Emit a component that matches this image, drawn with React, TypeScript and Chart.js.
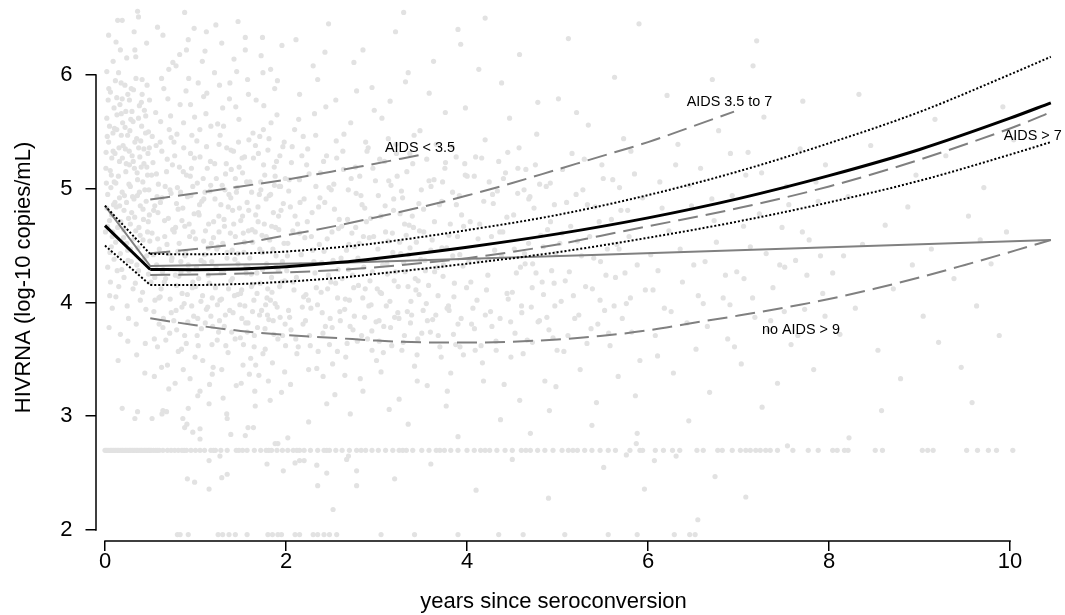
import React, { useEffect, useRef } from "react";
import { Chart, registerables } from "chart.js";

Chart.register(...registerables);

const FONT = "'Liberation Sans', Arial, Helvetica, sans-serif";

const xTicks = [0, 2, 4, 6, 8, 10];
const yTicks = [2, 3, 4, 5, 6];
const xRange = [-0.0994, 10.01];
const yRange = [1.9033, 6.536];

const xTitle = "years since seroconversion";
const yTitle = "HIVRNA (log-10 copies/mL)";

// fitted mean (solid black) and its confidence band (dotted)
const startTimes = [0, 0.5];
const meanStart = [4.675, 4.29];
const upperStart = [4.851, 4.426];
const lowerStart = [4.5, 4.154];
const fitTimes = [0.5, 1, 1.5, 2, 2.6, 3, 4, 5, 6, 7, 8, 9, 10, 10.45];
const meanFit = [4.29, 4.288, 4.295, 4.315, 4.353, 4.387, 4.486, 4.603, 4.744, 4.913, 5.115, 5.345, 5.62, 5.755];
const upperFit = [4.426, 4.424, 4.43, 4.448, 4.487, 4.522, 4.636, 4.77, 4.944, 5.153, 5.4, 5.675, 6.005, 6.16];
const lowerFit = [4.154, 4.154, 4.163, 4.183, 4.218, 4.252, 4.341, 4.442, 4.569, 4.713, 4.88, 5.07, 5.3, 5.41];

// grey solid line
const greyTimes = [0, 0.5, 2.6, 5.47, 10.45];
const greyFit = [4.85, 4.32, 4.35, 4.42, 4.55];

// group curves (grey dashed)
const aids35Times = [0.5, 1, 1.5, 2, 2.5, 2.82, 3.5];
const aids35Fit = [4.905, 4.96, 5.02, 5.08, 5.15, 5.195, 5.3];
const aids357Times = [0.5, 1, 1.5, 2, 2.6, 3, 3.5, 4, 4.5, 5, 5.47, 6, 6.5, 6.95];
const aids357Fit = [4.432, 4.47, 4.52, 4.59, 4.681, 4.75, 4.84, 4.94, 5.05, 5.17, 5.282, 5.41, 5.55, 5.678];
const aids7Times = [0.5, 1, 2, 2.6, 3, 4, 5, 5.47, 6, 7, 8, 8.78, 9, 10, 10.35, 10.45];
const aids7Fit = [4.242, 4.245, 4.265, 4.286, 4.31, 4.39, 4.51, 4.585, 4.67, 4.83, 5.02, 5.2, 5.255, 5.53, 5.64, 5.675];
const noAidsTimes = [0.5, 1, 1.5, 2, 2.6, 3, 3.5, 4, 4.5, 5, 5.47, 6, 6.57, 7, 7.68, 8, 8.5, 9, 9.5, 10.07, 10.45];
const noAidsFit = [3.861, 3.8, 3.75, 3.715, 3.685, 3.665, 3.65, 3.648, 3.655, 3.675, 3.705, 3.755, 3.83, 3.885, 3.98, 4.03, 4.12, 4.22, 4.33, 4.46, 4.55];

const labelText = ["AIDS < 3.5", "AIDS 3.5 to 7", "AIDS > 7", "no AIDS > 9"];
const labelX = [3.48, 6.9, 10.25, 7.69];
const labelY = [5.358, 5.765, 5.464, 3.758];

// observed viral loads (time, log10 RNA)
const observations: [number, number][] = [
  [0.02,5.62],[0.03,4.95],[0.04,5.41],[0.05,4.72],[0.06,5.85],[0.07,5.12],[0.08,4.58],[0.09,5.33],[0.10,5.71],[0.11,4.88],
  [0.12,5.05],[0.13,5.52],[0.14,4.66],[0.15,6.02],[0.16,5.24],[0.17,4.43],[0.18,5.66],[0.19,4.97],[0.20,5.38],[0.21,4.81],
  [0.22,5.91],[0.23,5.15],[0.24,4.52],[0.25,5.47],[0.26,4.74],[0.27,5.78],[0.28,5.02],[0.29,4.36],[0.30,5.29],[0.31,5.59],
  [0.32,4.91],[0.33,6.22],[0.34,4.63],[0.35,5.44],[0.36,5.08],[0.37,4.28],[0.38,5.73],[0.39,4.85],[0.40,5.19],[0.41,5.96],
  [0.42,4.55],[0.43,5.35],[0.44,4.99],[0.45,5.64],[0.46,4.41],[0.47,5.12],[0.48,5.50],[0.49,4.77],[0.03,4.31],[0.06,4.18],
  [0.08,3.95],[0.12,4.05],[0.17,3.72],[0.21,4.22],[0.26,3.86],[0.31,4.12],[0.35,3.54],[0.39,4.02],[0.44,3.38],[0.48,4.25],
  [0.04,6.35],[0.14,6.48],[0.24,6.15],[0.36,6.56],[0.46,6.28],[0.09,6.12],[0.29,5.88],[0.19,5.79],[0.41,5.83],[0.01,5.18],
  [0.05,5.55],[0.11,5.31],[0.16,4.92],[0.23,5.68],[0.28,4.69],[0.33,5.41],[0.38,4.97],[0.43,5.22],[0.47,4.62],[0.13,5.80],
  [0.02,4.83],[0.07,4.49],[0.18,5.47],[0.27,5.21],[0.32,4.56],[0.37,5.62],[0.42,4.82],[0.49,5.36],[0.10,4.38],[0.25,4.46],
  [0.015,5.05],[0.035,5.78],[0.055,4.44],[0.075,5.27],[0.095,4.86],[0.115,5.95],[0.135,4.28],[0.155,5.36],[0.175,4.71],[0.195,5.58],
  [0.215,4.94],[0.235,5.22],[0.255,4.37],[0.275,5.51],[0.295,4.79],[0.315,5.87],[0.335,4.17],[0.355,5.14],[0.375,4.66],[0.395,5.42],
  [0.415,4.09],[0.435,5.69],[0.455,4.89],[0.475,5.31],[0.495,4.54],[0.045,3.78],[0.145,3.49],[0.245,3.97],[0.345,3.81],[0.445,3.64],
  [0.065,5.01],[0.165,5.74],[0.265,5.04],[0.365,4.48],[0.465,5.91],[0.085,4.62],[0.185,4.29],[0.285,5.61],[0.385,5.28],[0.485,4.99],
  [0.025,5.46],[0.125,4.84],[0.225,5.35],[0.325,5.18],[0.425,4.73],[0.105,5.53],[0.205,4.57],[0.305,4.93],[0.405,5.55],[0.005,4.62],
  [0.012,5.32],[0.028,4.67],[0.042,5.88],[0.058,5.16],[0.072,4.77],[0.088,5.49],[0.102,5.06],[0.118,4.53],[0.132,5.65],[0.148,5.11],
  [0.162,4.85],[0.178,5.93],[0.192,5.27],[0.208,4.64],[0.222,5.54],[0.238,4.88],[0.252,5.83],[0.268,5.33],[0.282,4.47],[0.298,5.68],
  [0.312,5.24],[0.328,4.75],[0.342,5.97],[0.358,4.94],[0.372,5.36],[0.388,4.59],[0.402,5.76],[0.418,5.06],[0.432,4.38],[0.448,5.49],
  [0.462,5.19],[0.478,4.71],[0.492,5.78],[0.052,4.06],[0.152,4.14],[0.252,3.66],[0.352,4.33],[0.452,3.94],[0.122,6.29],[0.322,6.38],
  [0.52,4.61],[0.53,5.23],[0.54,3.92],[0.55,4.85],[0.56,5.67],[0.57,4.33],[0.58,3.61],[0.59,5.04],[0.60,4.47],[0.61,5.41],
  [0.62,4.12],[0.63,4.92],[0.64,3.78],[0.65,5.88],[0.66,4.58],[0.67,4.21],[0.68,5.15],[0.69,3.45],[0.70,4.74],[0.71,5.52],
  [0.72,4.03],[0.73,4.96],[0.74,4.39],[0.75,6.11],[0.76,3.84],[0.77,5.29],[0.78,4.66],[0.79,4.15],[0.80,5.01],[0.81,3.57],
  [0.82,4.52],[0.83,5.74],[0.84,4.27],[0.85,3.96],[0.86,4.83],[0.87,5.36],[0.88,3.71],[0.89,4.45],[0.90,5.12],[0.91,4.07],
  [0.92,6.31],[0.93,4.69],[0.94,3.33],[0.95,4.94],[0.96,5.47],[0.97,4.18],[0.98,3.88],[0.99,5.63],[1.00,4.56],[1.01,4.31],
  [1.02,5.05],[1.03,3.62],[1.04,4.77],[1.05,5.28],[1.06,4.01],[1.07,4.89],[1.08,3.49],[1.09,5.81],[1.10,4.42],[1.11,4.63],
  [1.12,3.94],[1.13,5.18],[1.14,4.24],[1.15,3.11],[1.16,4.98],[1.17,5.55],[1.18,4.36],[1.19,3.79],[1.20,4.71],[1.21,6.02],
  [1.22,4.13],[1.23,5.09],[1.24,3.67],[1.25,4.49],[1.26,5.39],[1.27,4.02],[1.28,4.86],[1.29,3.41],[1.30,5.71],[1.31,4.28],
  [1.32,4.67],[1.33,3.89],[1.34,5.22],[1.35,4.44],[1.36,3.56],[1.37,4.95],[1.38,5.93],[1.39,4.19],[1.40,3.74],[1.41,4.81],
  [1.42,5.33],[1.43,4.06],[1.44,4.58],[1.45,3.27],[1.46,5.01],[1.47,4.34],[1.48,5.61],[1.49,3.98],[1.50,4.72],[1.51,4.11],
  [1.52,5.14],[1.53,3.63],[1.54,4.53],[1.55,6.22],[1.56,4.26],[1.57,4.88],[1.58,3.82],[1.59,5.43],[1.60,4.39],[1.61,3.51],
  [1.62,4.97],[1.63,4.16],[1.64,5.27],[1.65,3.71],[1.66,4.62],[1.67,5.78],[1.68,4.08],[1.69,4.84],[1.70,3.36],[1.71,4.47],
  [1.72,5.06],[1.73,3.93],[1.74,4.29],[1.75,5.52],[1.76,4.69],[1.77,3.59],[1.78,4.91],[1.79,4.04],[1.80,5.34],[1.81,3.85],
  [1.82,4.55],[1.83,6.05],[1.84,4.22],[1.85,3.47],[1.86,4.79],[1.87,5.19],[1.88,3.99],[1.89,4.41],[1.90,5.65],[1.91,3.68],
  [1.92,4.64],[1.93,4.14],[1.94,5.02],[1.95,3.21],[1.96,4.36],[1.97,4.87],[1.98,5.41],[1.99,3.81],
  [0.58,6.42],[0.88,6.55],[1.12,6.38],[1.47,6.47],[1.74,6.33],[1.93,6.58],[0.64,3.05],[1.35,2.98],[1.05,3.22],[1.66,3.09],
  [0.73,5.45],[0.97,5.02],[1.26,4.62],[1.44,5.09],[1.58,4.31],[1.83,4.95],[0.61,4.05],[0.85,4.72],[1.17,3.88],[1.71,5.46],
  [1.03,5.93],[0.92,4.33],[1.31,5.55],[1.52,4.76],[1.88,5.11],[0.55,4.22],[0.79,4.87],[1.09,4.54],[1.39,4.92],[1.63,3.92],
  [0.515,5.12],[0.535,4.42],[0.545,3.68],[0.565,5.38],[0.585,4.79],[0.595,4.04],[0.615,5.59],[0.635,4.27],[0.645,3.86],[0.665,5.02],
  [0.685,4.51],[0.695,5.79],[0.715,3.73],[0.735,4.37],[0.745,5.21],[0.765,4.62],[0.785,3.93],[0.795,5.48],[0.815,4.23],[0.835,4.97],
  [0.845,3.59],[0.865,5.15],[0.885,4.41],[0.895,5.86],[0.915,3.83],[0.935,4.58],[0.945,5.31],[0.965,4.13],[0.985,4.78],[0.995,3.52],
  [1.015,5.42],[1.035,4.21],[1.045,4.86],[1.065,3.77],[1.085,5.09],[1.095,4.35],[1.115,5.66],[1.135,3.96],[1.145,4.69],[1.165,5.24],
  [1.185,4.04],[1.195,3.43],[1.215,4.91],[1.235,4.47],[1.245,5.57],[1.265,3.84],[1.285,4.26],[1.295,5.03],[1.315,4.73],[1.335,3.62],
  [1.345,5.36],[1.365,4.12],[1.385,4.61],[1.395,5.17],[1.415,3.91],[1.435,4.38],[1.445,5.72],[1.465,4.07],[1.485,4.83],[1.495,3.69],
  [1.515,5.27],[1.535,4.44],[1.545,3.97],[1.565,5.06],[1.585,4.63],[1.595,3.37],[1.615,4.25],[1.635,5.49],[1.645,4.02],[1.665,4.77],
  [1.685,3.78],[1.695,5.31],[1.715,4.17],[1.735,4.59],[1.745,3.55],[1.765,5.12],[1.785,4.34],[1.795,3.89],[1.815,4.94],[1.835,5.58],
  [1.845,4.09],[1.865,3.72],[1.885,4.66],[1.895,5.24],[1.915,4.28],[1.935,3.87],[1.945,4.81],[1.965,5.37],[1.985,4.19],[1.995,3.62],
  [0.575,4.93],[0.655,4.18],[0.725,5.64],[0.805,4.45],[0.875,3.99],[0.955,5.18],[1.025,3.86],[1.105,4.97],[1.175,4.52],[1.255,3.74],
  [1.325,4.99],[1.405,4.46],[1.475,5.41],[1.555,3.82],[1.625,4.64],[1.705,4.95],[1.775,3.98],[1.855,4.47],[1.925,5.02],[0.625,3.43],
  [0.705,6.05],[0.825,6.18],[0.905,2.93],[1.075,6.12],[1.155,3.28],[1.225,6.44],[1.305,3.16],[1.455,6.03],[1.575,5.96],[1.655,3.22],
  [1.725,6.17],[1.805,3.31],[1.875,5.88],[1.955,6.26],[0.775,3.29],[0.925,5.97],[1.125,5.84],[1.375,5.79],[1.525,3.45],[1.755,5.73],
  [0.508,4.18],[0.522,5.46],[0.538,4.81],[0.552,4.02],[0.568,5.13],[0.582,4.56],[0.598,3.81],[0.612,4.88],[0.628,5.33],[0.642,4.29],
  [0.658,4.72],[0.672,3.67],[0.688,5.26],[0.702,4.43],[0.718,4.99],[0.732,3.91],[0.748,4.64],[0.762,5.41],[0.778,4.24],[0.792,3.76],
  [0.808,4.82],[0.822,5.19],[0.838,4.36],[0.852,4.08],[0.868,5.58],[0.882,4.67],[0.898,3.64],[0.912,4.93],[0.928,4.28],[0.942,5.11],
  [0.958,3.97],[0.972,4.62],[0.988,5.27],[1.002,4.14],[1.018,3.71],[1.032,4.79],[1.048,5.52],[1.062,4.37],[1.078,4.06],[1.092,4.91],
  [1.108,3.82],[1.122,5.37],[1.138,4.48],[1.152,4.17],[1.168,5.03],[1.182,3.63],[1.198,4.57],[1.212,5.22],[1.228,4.31],[1.242,3.98],
  [1.258,4.76],[1.272,5.47],[1.288,4.03],[1.302,4.52],[1.318,3.79],[1.332,5.13],[1.348,4.39],[1.362,4.84],[1.378,3.93],[1.392,5.34],
  [1.408,4.21],[1.422,4.69],[1.438,3.68],[1.452,4.97],[1.468,4.43],[1.482,5.19],[1.498,4.08],[1.512,3.86],[1.528,4.61],[1.542,5.28],
  [1.558,4.32],[1.572,3.74],[1.588,4.81],[1.602,5.06],[1.618,4.14],[1.632,4.53],[1.648,3.61],[1.662,5.38],[1.678,4.26],[1.692,4.71],
  [1.708,3.89],[1.722,4.99],[1.738,4.44],[1.752,5.21],[1.768,3.77],[1.782,4.58],[1.798,4.12],[1.812,5.44],[1.828,4.02],[1.842,4.67],
  [1.858,3.84],[1.872,5.03],[1.888,4.31],[1.902,3.96],[1.918,4.76],[1.932,5.29],[1.948,4.18],[1.962,3.71],[1.978,4.52],[1.992,5.09],
  [0.545,3.35],[0.705,3.24],[0.865,3.41],[1.025,3.18],[1.185,3.37],[1.345,3.02],[1.505,3.29],[1.665,3.45],[1.825,3.14],[1.985,3.39],
  [0.625,5.97],[0.785,6.08],[0.945,5.74],[1.105,6.21],[1.265,5.91],[1.425,6.14],[1.585,5.83],[1.745,6.02],[1.905,5.95],[0.985,6.41],
  [2.02,4.52],[2.04,3.87],[2.06,5.23],[2.08,4.18],[2.10,4.76],[2.12,3.55],[2.14,5.61],[2.16,4.33],[2.18,3.96],[2.20,4.91],
  [2.22,4.07],[2.24,5.35],[2.26,3.71],[2.28,4.58],[2.30,6.08],[2.32,4.26],[2.34,3.42],[2.36,4.84],[2.38,5.14],[2.40,3.91],
  [2.42,4.45],[2.44,5.72],[2.46,4.12],[2.48,3.63],[2.50,4.99],[2.52,4.37],[2.54,3.19],[2.56,5.27],[2.58,4.65],[2.60,3.84],
  [2.62,4.21],[2.64,5.48],[2.66,3.52],[2.68,4.73],[2.70,4.02],[2.72,5.09],[2.74,3.76],[2.76,4.49],[2.78,5.86],[2.80,4.15],
  [2.82,3.33],[2.84,4.86],[2.86,4.31],[2.88,5.41],[2.90,3.68],[2.92,4.57],[2.94,3.98],[2.96,5.18],[2.98,4.38],[3.00,3.49],
  [3.02,4.94],[3.04,4.09],[3.06,5.62],[3.08,3.79],[3.10,4.62],[3.12,4.25],[3.14,3.06],[3.16,5.03],[3.18,4.44],[3.20,3.87],
  [3.22,5.31],[3.24,4.14],[3.26,4.78],[3.28,3.58],[3.30,4.35],[3.32,5.94],[3.34,3.92],[3.36,4.68],[3.38,4.01],[3.40,5.22],
  [3.42,3.44],[3.44,4.53],[3.46,4.19],[3.48,5.51],[3.50,3.73],[3.52,4.82],[3.54,4.28],[3.56,3.27],[3.58,5.07],[3.60,4.46],
  [3.62,3.85],[3.64,4.71],[3.66,5.39],[3.68,4.06],[3.70,3.61],[3.72,4.89],[3.74,4.33],[3.76,5.67],[3.78,3.95],[3.80,4.59],
  [3.82,3.38],[3.84,4.97],[3.86,4.17],[3.88,5.28],[3.90,3.81],[3.92,4.42],[3.94,4.77],[3.96,3.54],[3.98,5.12],
  [2.11,6.31],[2.47,6.45],[2.85,6.22],[3.21,6.38],[3.63,6.12],[3.93,6.27],[2.25,2.95],[2.71,3.02],[3.35,2.93],[3.77,3.09],
  [2.15,4.61],[2.33,5.02],[2.51,3.78],[2.69,4.29],[2.87,4.83],[3.03,3.66],[3.19,4.91],[3.37,4.48],[3.55,3.99],[3.73,5.06],
  [2.03,4.98],[2.41,3.35],[2.77,4.66],[3.13,5.44],[3.47,4.07],[3.85,3.72],[2.19,5.46],[2.57,4.04],[2.95,3.58],[3.31,4.69],
  [2.015,4.41],[2.035,5.08],[2.055,3.76],[2.075,4.63],[2.095,5.52],[2.115,4.22],[2.135,3.61],[2.155,4.88],[2.175,5.29],[2.195,4.05],
  [2.215,3.84],[2.235,4.71],[2.255,5.13],[2.275,3.95],[2.295,4.46],[2.315,5.66],[2.335,4.13],[2.355,3.57],[2.375,4.92],[2.395,4.35],
  [2.415,5.24],[2.435,3.79],[2.455,4.56],[2.475,5.01],[2.495,4.18],[2.515,3.46],[2.535,4.82],[2.555,5.42],[2.575,4.29],[2.595,3.92],
  [2.615,4.67],[2.635,5.17],[2.655,4.03],[2.675,3.64],[2.695,4.51],[2.715,5.58],[2.735,4.24],[2.755,3.88],[2.775,4.96],[2.795,4.39],
  [2.815,5.11],[2.835,3.71],[2.855,4.58],[2.875,4.12],[2.895,5.33],[2.915,3.97],[2.935,4.74],[2.955,4.27],[2.975,5.69],[2.995,3.83],
  [3.015,4.47],[3.035,5.26],[3.055,4.08],[3.075,3.56],[3.095,4.85],[3.115,4.34],[3.135,5.07],[3.155,3.78],[3.175,4.61],[3.195,4.19],
  [3.215,5.39],[3.235,3.91],[3.255,4.53],[3.275,4.98],[3.295,3.65],[3.315,4.27],[3.335,5.15],[3.355,4.42],[3.375,3.82],[3.395,4.76],
  [3.415,5.47],[3.435,4.11],[3.455,3.68],[3.475,4.63],[3.495,4.99],[3.515,3.93],[3.535,4.37],[3.555,5.26],[3.575,4.15],[3.595,3.74],
  [3.615,4.55],[3.635,5.08],[3.655,3.89],[3.675,4.31],[3.695,4.86],[3.715,3.52],[3.735,4.23],[3.755,5.18],[3.775,4.48],[3.795,3.97],
  [3.815,4.69],[3.835,5.37],[3.855,4.05],[3.875,3.63],[3.895,4.58],[3.915,4.94],[3.935,3.86],[3.955,4.32],[3.975,5.22],[3.995,4.13],
  [2.008,4.28],[2.028,3.93],[2.048,4.84],[2.068,5.37],[2.088,4.11],[2.108,3.68],[2.128,4.69],[2.148,5.08],[2.168,4.42],[2.188,3.81],
  [2.208,4.57],[2.228,5.21],[2.248,4.02],[2.268,3.62],[2.288,4.79],[2.308,4.36],[2.328,5.47],[2.348,3.98],[2.368,4.51],[2.388,4.09],
  [2.408,3.73],[2.428,4.88],[2.448,5.29],[2.468,4.24],[2.488,3.86],[2.508,4.62],[2.528,5.04],[2.548,4.17],[2.568,3.57],[2.588,4.73],
  [2.608,4.39],[2.628,5.33],[2.648,3.94],[2.668,4.46],[2.688,4.99],[2.708,3.79],[2.728,4.61],[2.748,4.13],[2.768,5.19],[2.788,3.66],
  [2.808,4.52],[2.828,4.94],[2.848,4.04],[2.868,3.87],[2.888,4.71],[2.908,5.36],[2.928,4.19],[2.948,3.75],[2.968,4.58],[2.988,5.07],
  [3.008,4.12],[3.028,3.84],[3.048,4.76],[3.068,4.33],[3.088,5.24],[3.108,3.97],[3.128,4.54],[3.148,4.01],[3.168,3.62],[3.188,4.81],
  [3.208,4.27],[3.228,5.11],[3.248,3.86],[3.268,4.43],[3.288,4.92],[3.308,3.71],[3.328,4.59],[3.348,4.14],[3.368,5.31],[3.388,3.89],
  [3.408,4.66],[3.428,4.21],[3.448,3.54],[3.468,4.87],[3.488,4.38],
  [2.05,3.28],[2.25,3.41],[2.45,3.11],[2.65,3.36],[2.85,3.22],[3.05,3.39],[3.25,3.15],[3.45,3.31],
  [2.15,5.83],[2.35,5.96],[2.55,5.78],[2.75,6.11],[2.95,5.89],[3.15,5.77],[3.35,6.02],
  [3.522,4.62],[3.562,3.84],[3.602,5.02],[3.642,4.27],[3.682,3.71],[3.722,4.48],[3.762,5.23],[3.802,3.93],[3.842,4.41],[3.882,4.86],
  [3.922,3.61],[3.962,4.67],[4.002,5.11],[4.042,4.18],[4.082,3.77],[4.122,4.56],[4.162,5.27],[4.202,3.89],[4.242,4.38],[4.282,4.95],
  [4.322,3.58],[4.362,4.62],[4.402,5.09],[4.442,4.08],[4.482,3.83],[4.522,4.47],[4.562,5.18],[4.602,3.97],[4.642,4.34],[4.682,4.91],
  [4.722,3.65],[4.762,4.26],[4.802,5.04],[4.842,4.49],[4.882,3.87],[4.922,4.71],[4.962,4.17],[3.582,5.84],[3.982,5.71],[4.382,5.93],
  [4.782,5.76],[3.782,3.22],[4.182,3.31],[4.582,3.14],[4.982,3.26],
  [4.02,4.36],[4.05,3.81],[4.08,5.11],[4.11,4.02],[4.14,4.69],[4.17,3.47],[4.20,5.43],[4.23,4.24],[4.26,3.92],[4.29,4.87],
  [4.32,3.66],[4.35,5.24],[4.38,4.41],[4.41,3.28],[4.44,4.75],[4.47,5.62],[4.50,4.09],[4.53,3.73],[4.56,4.96],[4.59,4.31],
  [4.62,3.55],[4.65,5.17],[4.68,4.52],[4.71,3.96],[4.74,4.83],[4.77,5.48],[4.80,3.84],[4.83,4.18],[4.86,3.31],[4.89,4.64],
  [4.92,5.05],[4.95,3.69],[4.98,4.43],[5.01,5.79],[5.04,4.01],[5.07,3.57],[5.10,4.88],[5.13,4.27],[5.16,5.31],[5.19,3.86],
  [5.22,4.54],[5.25,3.41],[5.28,4.99],[5.31,4.14],[5.34,5.56],[5.37,3.77],[5.40,4.39],[5.43,3.12],[5.46,4.71],[5.49,5.21],
  [5.52,3.93],[5.55,4.47],[5.58,3.62],[5.61,5.08],[5.64,4.22],[5.67,3.35],[5.70,4.81],[5.73,5.44],[5.76,3.99],[5.79,4.58],
  [5.82,3.74],[5.85,5.13],[5.88,4.33],[5.91,3.49],[5.94,4.92],[5.97,4.11],
  [4.13,6.05],[4.58,6.18],[5.12,6.32],[5.63,5.98],[4.37,2.97],[4.91,3.05],[5.38,2.92],[5.86,3.18],[4.27,4.58],[4.72,4.13],
  [5.05,4.61],[5.47,4.02],[5.81,5.33],[4.45,5.32],[4.97,3.97],[5.33,4.86],[5.68,4.47],[4.09,3.58],[4.63,4.99],[5.21,5.67],
  [4.035,4.71],[4.065,3.95],[4.095,5.28],[4.125,4.37],[4.155,3.62],[4.185,4.89],[4.215,4.11],[4.245,5.06],[4.275,3.79],[4.305,4.46],
  [4.335,4.98],[4.365,3.86],[4.395,4.62],[4.425,5.14],[4.455,4.03],[4.485,3.52],[4.515,4.77],[4.545,4.26],[4.575,5.36],[4.605,3.91],
  [4.635,4.43],[4.665,3.67],[4.695,4.93],[4.725,4.34],[4.755,5.21],[4.785,3.83],[4.815,4.59],[4.845,4.07],[4.875,5.02],[4.905,3.76],
  [4.935,4.28],[4.965,4.86],[4.995,3.58],[5.025,4.52],[5.055,5.17],[5.085,4.19],[5.115,3.71],[5.145,4.67],[5.175,4.06],[5.205,4.95],
  [5.235,3.89],[5.265,4.41],[5.295,5.26],[5.325,3.64],[5.355,4.58],[5.385,4.12],[5.415,4.84],[5.445,3.81],[5.475,4.36],[5.505,5.09],
  [5.535,4.24],[5.565,3.73],[5.595,4.73],[5.625,3.97],[5.655,4.51],[5.685,5.01],[5.715,3.86],[5.745,4.26],[5.775,4.81],[5.805,4.04],
  [6.03,4.42],[6.08,3.71],[6.13,5.06],[6.18,3.95],[6.23,4.63],[6.28,3.38],[6.33,5.39],[6.38,4.18],[6.43,3.82],[6.48,4.85],
  [6.53,3.59],[6.58,5.18],[6.63,4.36],[6.68,3.21],[6.73,4.72],[6.78,5.51],[6.83,4.04],[6.88,3.68],[6.93,4.94],[6.98,4.27],
  [7.03,3.46],[7.08,5.12],[7.13,4.49],[7.18,3.87],[7.23,4.78],[7.28,5.63],[7.33,3.76],[7.38,4.13],[7.43,3.29],[7.48,4.66],
  [7.53,5.02],[7.58,3.63],[7.63,4.37],[7.68,5.35],[7.73,3.94],[7.78,4.55],[7.83,3.41],[7.88,4.89],[7.93,4.08],
  [6.21,5.82],[6.71,5.96],[7.16,6.08],[7.71,5.77],[6.45,2.96],[7.26,3.08],[6.11,4.28],[6.61,3.99],[7.06,4.21],[7.51,4.31],
  [7.96,5.21],[6.91,5.31],
  [6.055,4.11],[6.155,4.83],[6.255,3.92],[6.355,4.47],[6.455,5.03],[6.555,4.06],[6.655,3.79],[6.755,4.53],[6.855,4.24],[6.955,3.61],
  [7.055,4.67],[7.155,4.04],[7.255,5.14],[7.355,3.84],[7.455,4.33],[7.555,4.86],[7.655,3.71],[7.755,4.24],[7.855,5.06],[7.955,3.88],
  [6.105,3.53],[6.305,5.21],[6.505,4.33],[6.705,4.91],[6.905,3.98],[7.105,5.32],[7.305,4.43],[7.505,3.92],[7.705,4.62],[7.905,4.41],
  [8.04,4.26],[8.12,3.72],[8.21,4.93],[8.29,3.95],[8.37,4.51],[8.46,5.38],[8.54,3.58],[8.62,4.68],[8.71,4.12],[8.79,3.33],
  [8.87,4.84],[8.96,5.12],[9.04,3.88],[9.13,4.47],[9.21,3.65],[9.29,5.29],[9.38,4.21],[9.46,3.43],[9.54,4.76],[9.63,3.97],
  [9.71,5.01],[9.79,4.34],[9.88,3.71],[9.96,4.62],[10.04,5.43],[10.13,3.92],[10.21,4.19],[10.29,3.55],[10.38,4.85],[10.46,4.02],
  [8.33,5.83],[9.17,5.61],[9.92,5.72],[8.58,3.05],[9.58,3.12],[10.08,4.38],[8.92,4.33],[9.67,4.55],[8.16,4.41],[10.25,5.06],
  [0.19,6.48],[0.37,6.51],[0.64,6.35],[0.90,6.22],[1.29,6.28],[1.55,6.33],[2.07,6.63],[2.43,6.2],[0.34,6.16],[0.17,6.22],
  [0.02,6.03],[5.0,6.6],[5.9,6.45],[6.3,6.6],[3.3,6.55],[4.2,6.5],[7.2,6.3],[3.9,6.4],
  [0.91,2.45],[0.99,2.42],[1.15,2.36],[1.15,2.61],[1.27,2.65],[1.29,2.46],[1.35,2.49],[1.79,2.58],[1.97,2.52],[2.10,2.59],
  [2.15,2.61],[2.20,2.61],[2.34,2.57],[2.35,2.39],[2.45,2.5],[2.52,2.18],[2.78,2.52],[2.78,2.39],
  [0.19,3.07],[0.33,2.98],[0.36,3.04],[0.52,2.98],[0.63,3.02],[0.68,3.04],[0.86,2.98],[0.88,2.9],[0.92,3.07],[0.97,2.86],
  [1.05,2.89],[1.05,2.8],[1.39,2.84],[1.55,2.83],[1.58,2.9],[1.64,2.9],[1.88,2.76],[1.91,2.76],[2.02,2.81],[2.67,2.62],
  [2.69,2.65],[5.88,2.85],[5.87,2.76],[5.76,2.66],[6.07,2.61],[6.31,2.65],[6.74,2.47],[5.96,2.36],[7.08,2.29],[6.55,2.09],
  [8.22,2.81],[7.54,2.74],[5.51,2.55],[3.2,2.45],[3.6,2.58],[4.1,2.35],[4.5,2.62],[4.9,2.28],[3.9,2.82],[4.7,2.85],
];

// observations censored at the detection limit
const detectionLimit = 2.7;
const censoredTimes = [
  0.0,0.03,0.06,0.09,0.12,0.15,0.18,0.21,0.24,0.27,0.3,0.33,0.36,0.39,0.42,0.45,0.48,0.51,0.56,0.6,0.64,0.69,0.73,
  0.77,0.81,0.85,0.9,0.95,1.0,1.05,1.1,1.17,1.22,1.28,1.35,1.45,1.52,1.57,1.65,1.72,1.78,1.84,1.9,1.96,2.02,2.08,
  2.15,2.2,2.27,2.35,2.42,2.48,2.55,2.62,2.7,2.78,2.88,2.95,3.02,3.1,3.18,3.25,3.33,3.4,3.5,3.58,3.66,3.75,3.82,3.9,
  4.0,4.08,4.15,4.25,4.33,4.42,4.5,4.6,4.7,4.78,4.86,4.95,5.05,5.12,5.22,5.3,5.38,5.47,5.56,5.64,5.8,5.91,5.94,6.08,
  6.17,6.27,6.35,6.54,6.61,6.77,6.82,6.93,7.02,7.08,7.13,7.19,7.24,7.3,7.35,7.43,7.6,7.77,7.88,8.04,8.09,8.17,8.21,
  8.51,8.59,9.03,9.09,9.15,9.52,9.64,9.76,9.85,10.03,10.14,
  0.015,0.045,0.075,0.105,0.135,0.165,0.195,0.225,0.255,0.285,0.315,0.345,0.375,0.405,0.435,0.465,0.495,0.535,0.58,
  0.875,1.2,1.48,1.81,2.12,2.45,2.83,3.29,3.7,4.2,4.65,5.17,
];
const floorValue = 1.96;
const floorTimes = [
  0.8,0.83,0.92,1.25,1.3,1.37,1.44,1.57,1.8,1.85,1.91,1.95,2.1,2.15,2.3,2.35,2.42,2.48,2.56,3.05,3.42,3.9,4.35,4.62,
  5.08,5.56,5.88,6.29,6.46,6.52,
];

const pts = (xs: number[], ys: number[]) => xs.map((x, i) => ({ x, y: ys[i] }));

const lineDs = (data: any, color: string, width: number, dash: number[], curved: boolean) => ({
  data,
  showLine: true,
  borderColor: color,
  borderWidth: width,
  borderDash: dash,
  pointRadius: 0,
  tension: 0,
  cubicInterpolationMode: curved ? "monotone" : "default",
  clip: false,
  order: 1,
});

const rAxesPlugin = {
  id: "rAxes",
  afterDraw(chart: any) {
    const { ctx, chartArea, scales } = chart;
    const x = scales.x;
    const y = scales.y;
    ctx.save();
    ctx.strokeStyle = "#000";
    ctx.lineWidth = 1.5;
    ctx.beginPath();
    ctx.moveTo(x.getPixelForValue(xTicks[0]) - 0.75, chartArea.bottom);
    ctx.lineTo(x.getPixelForValue(xTicks[xTicks.length - 1]) + 0.75, chartArea.bottom);
    ctx.moveTo(chartArea.left, y.getPixelForValue(yTicks[0]) + 0.75);
    ctx.lineTo(chartArea.left, y.getPixelForValue(yTicks[yTicks.length - 1]) - 0.75);
    ctx.stroke();
    ctx.fillStyle = "#000";
    ctx.font = `14.4px ${FONT}`;
    ctx.textAlign = "center";
    ctx.textBaseline = "middle";
    labelText.forEach((t, i) => {
      ctx.fillText(t, x.getPixelForValue(labelX[i]), y.getPixelForValue(labelY[i]));
    });
    ctx.restore();
  },
};

export default function App() {
  const ref = useRef<HTMLCanvasElement | null>(null);
  useEffect(() => {
    if (!ref.current) return;
    const scatterData = [
      ...observations.map(([x, y]) => ({ x, y })),
      ...censoredTimes.map((x) => ({ x, y: detectionLimit })),
      ...floorTimes.map((x) => ({ x, y: floorValue })),
    ];
    const chart = new Chart(ref.current, {
      type: "scatter",
      data: {
        datasets: [
          lineDs(pts(startTimes, meanStart), "#000", 3, [], false),
          lineDs(pts(fitTimes, meanFit), "#000", 3, [], true),
          lineDs(pts(startTimes, upperStart), "#000", 2, [2, 2], false),
          lineDs(pts(fitTimes, upperFit), "#000", 2, [2, 2], true),
          lineDs(pts(startTimes, lowerStart), "#000", 2, [2, 2], false),
          lineDs(pts(fitTimes, lowerFit), "#000", 2, [2, 2], true),
          lineDs(pts(greyTimes, greyFit), "#808080", 2, [], false),
          lineDs(pts(aids35Times, aids35Fit), "#808080", 2, [20, 8], true),
          lineDs(pts(aids357Times, aids357Fit), "#808080", 2, [20, 8], true),
          lineDs(pts(aids7Times, aids7Fit), "#808080", 2, [20, 8], true),
          lineDs(pts(noAidsTimes, noAidsFit), "#808080", 2, [20, 8], true),
          {
            data: scatterData,
            showLine: false,
            pointRadius: 2.6,
            pointBorderWidth: 0,
            pointBackgroundColor: "#e2e2e2",
            pointBorderColor: "#e2e2e2",
            clip: false,
            order: 2,
          } as any,
        ] as any,
      },
      options: {
        animation: false,
        responsive: false,
        devicePixelRatio: 1,
        events: [],
        layout: { padding: { top: 14, right: 54, left: 0, bottom: 0 } },
        plugins: { legend: { display: false }, tooltip: { enabled: false } },
        scales: {
          x: {
            type: "linear",
            bounds: "data",
            position: "bottom",
            afterDataLimits: (s: any) => {
              s.min = xRange[0];
              s.max = xRange[1];
            },
            afterBuildTicks: (s: any) => {
              s.ticks = xTicks.map((v) => ({ value: v }));
            },
            afterFit: (s: any) => {
              s.height = 74;
              s.paddingLeft = 0;
              s.paddingRight = 0;
            },
            grid: { display: true, drawOnChartArea: false, drawTicks: true, tickLength: 10, color: "#000", lineWidth: 1.5 },
            border: { display: false },
            ticks: {
              autoSkip: false,
              maxRotation: 0,
              padding: 0,
              color: "#000",
              font: { family: FONT, size: 22, lineHeight: 1 },
            },
            title: {
              display: true,
              text: xTitle,
              color: "#000",
              font: { family: FONT, size: 22 },
              padding: { top: 0, bottom: 0 },
            },
          },
          y: {
            type: "linear",
            bounds: "data",
            position: "left",
            afterDataLimits: (s: any) => {
              s.min = yRange[0];
              s.max = yRange[1];
            },
            afterBuildTicks: (s: any) => {
              s.ticks = yTicks.map((v) => ({ value: v }));
            },
            afterFit: (s: any) => {
              s.width = 96;
              s.paddingTop = 0;
              s.paddingBottom = 0;
            },
            grid: { display: true, drawOnChartArea: false, drawTicks: true, tickLength: 10.5, color: "#000", lineWidth: 1.5 },
            border: { display: false },
            ticks: {
              autoSkip: false,
              padding: 13,
              color: "#000",
              font: { family: FONT, size: 22 },
            },
            title: {
              display: true,
              text: yTitle,
              color: "#000",
              font: { family: FONT, size: 22 },
              padding: { top: 11, bottom: 0 },
            },
          },
        },
      } as any,
      plugins: [rAxesPlugin],
    });
    return () => chart.destroy();
  }, []);
  return (
    <div style={{ position: "absolute", left: 0, top: 0, width: 1065, height: 615, background: "#fff" }}>
      <canvas ref={ref} width={1065} height={615} style={{ display: "block" }} />
    </div>
  );
}
